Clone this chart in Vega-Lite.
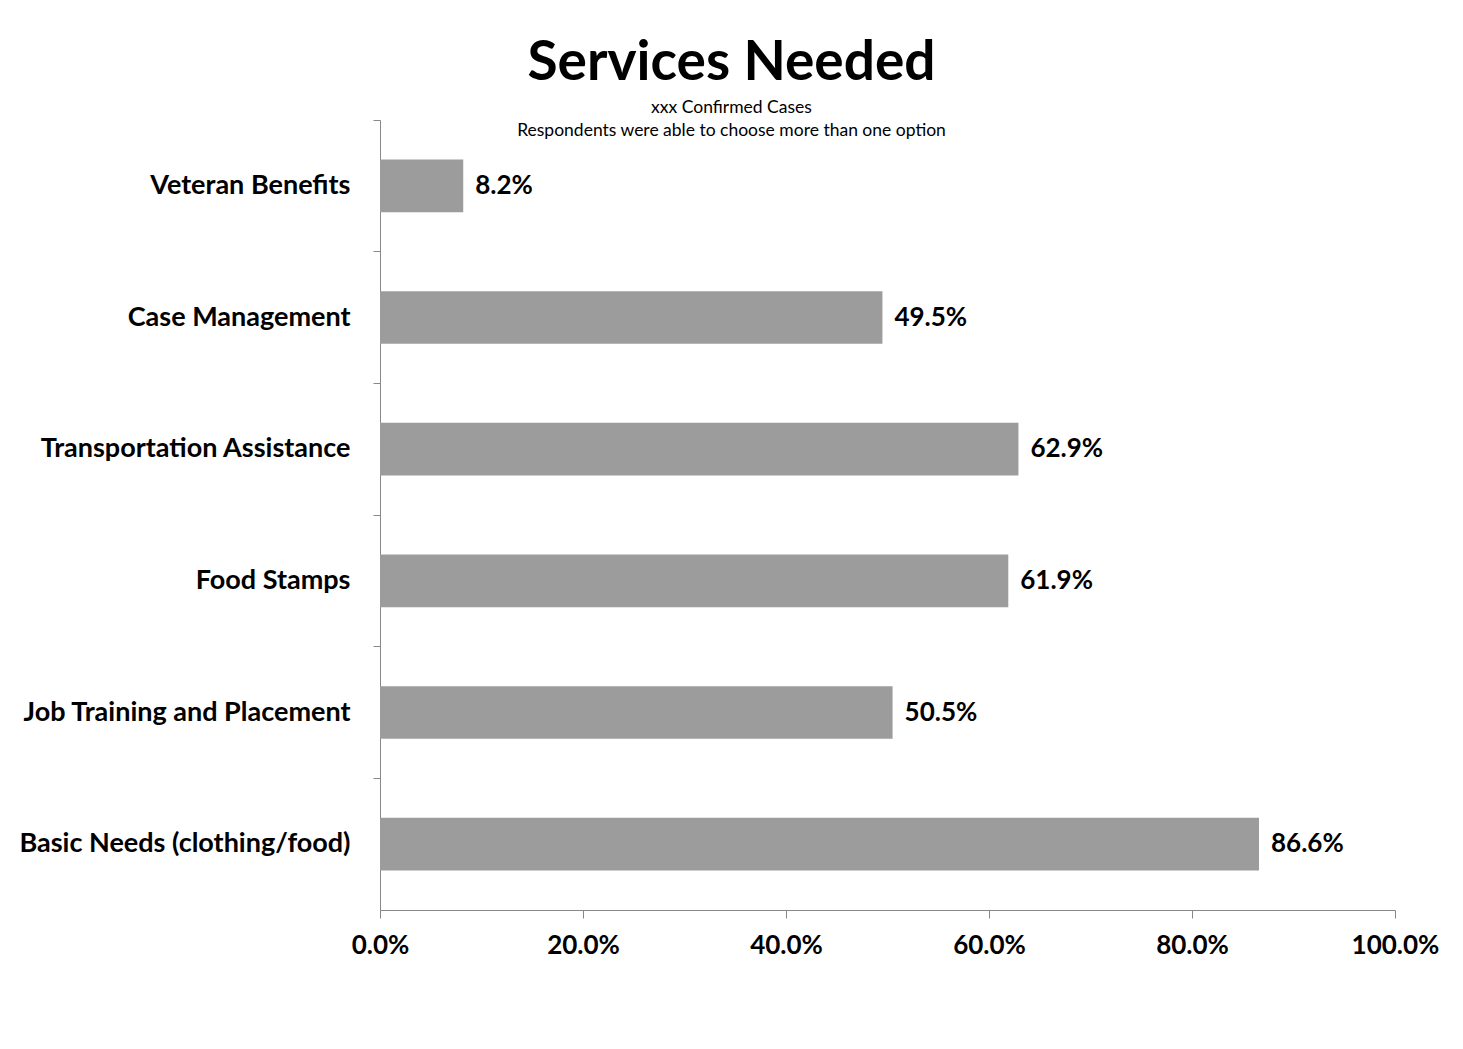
{
  "$schema": "https://vega.github.io/schema/vega-lite/v6.json",
  "width": 1015,
  "height": 790,
  "autosize": {"type": "none"},
  "padding": {"left": 380, "top": 120, "right": 68, "bottom": 139},
  "background": "white",
  "title": {
    "text": "Services Needed",
    "subtitle": ["xxx Confirmed Cases", "Respondents were able to choose more than one option"],
    "font": "Lato",
    "fontSize": 55,
    "fontWeight": "bold",
    "color": "black",
    "subtitleFont": "Lato",
    "subtitleFontSize": 17.5,
    "subtitleLineHeight": 23,
    "subtitleColor": "black",
    "subtitlePadding": 7,
    "anchor": "middle",
    "dx": -156,
    "offset": -21
  },
  "data": {
    "values": [
      {"service": "Veteran Benefits", "pct": 0.082},
      {"service": "Case Management", "pct": 0.495},
      {"service": "Transportation Assistance", "pct": 0.629},
      {"service": "Food Stamps", "pct": 0.619},
      {"service": "Job Training and Placement", "pct": 0.505},
      {"service": "Basic Needs (clothing/food)", "pct": 0.866}
    ]
  },
  "encoding": {
    "y": {
      "field": "service",
      "type": "nominal",
      "sort": null,
      "scale": {"paddingInner": 0.6, "paddingOuter": 0.3},
      "axis": {
        "title": null,
        "ticks": true,
        "tickSize": 7,
        "tickColor": "#888888",
        "bandPosition": -0.75,
        "labelFont": "Lato",
        "labelFontSize": 27,
        "labelFontWeight": "bold",
        "labelColor": "black",
        "labelPadding": 23,
        "labelLimit": 0,
        "domainColor": "#888888",
        "grid": false
      }
    },
    "x": {
      "field": "pct",
      "type": "quantitative",
      "scale": {"domain": [0, 1], "nice": false},
      "axis": {
        "title": null,
        "format": ".1%",
        "values": [0, 0.2, 0.4, 0.6, 0.8, 1],
        "grid": false,
        "tickSize": 8,
        "tickColor": "#888888",
        "domainColor": "#888888",
        "labelFlush": false,
        "labelFont": "Lato",
        "labelFontSize": 26,
        "labelFontWeight": "bold",
        "labelColor": "black",
        "labelPadding": 14
      }
    }
  },
  "layer": [
    {"mark": {"type": "bar", "color": "#9c9c9c"}},
    {
      "mark": {"type": "text", "align": "left", "baseline": "middle", "dx": 12, "font": "Lato", "fontSize": 26, "fontWeight": "bold", "color": "black"},
      "encoding": {"text": {"field": "pct", "type": "quantitative", "format": ".1%"}}
    }
  ],
  "config": {"view": {"stroke": null}}
}
